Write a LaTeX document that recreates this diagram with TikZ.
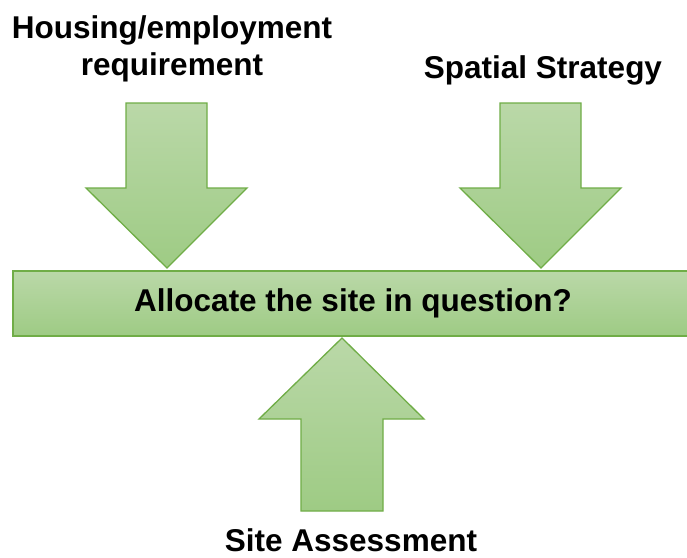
\documentclass[tikz,border=0pt]{standalone}
\usepackage{fontspec}
\setmainfont{Liberation Sans}
\definecolor{arrowtop}{RGB}{186,216,168}
\definecolor{arrowbottom}{RGB}{158,203,132}
\definecolor{arrowline}{RGB}{112,173,71}

\begin{document}
\begin{tikzpicture}
  [x=1pt,y=1pt,
    greenshape/.style={draw=arrowline,line width=1.3pt,line join=miter,
      top color=arrowtop,bottom color=arrowbottom},
    every node/.style={font=\bfseries\fontsize{31.5}{37}\selectfont,inner sep=0pt},
]
  \useasboundingbox (0,0) rectangle (687,-557);
  \clip (0,0) rectangle (687,-557);
  \fill[white] (0,0) rectangle (687,-557);
  \draw[greenshape] (13,-271) rectangle (700,-336);
  \draw[greenshape] (126,-103) -- (207,-103) -- (207,-188) -- (247,-188)
    -- (167,-268) -- (86,-188) -- (126,-188) -- cycle;
  \draw[greenshape] (500,-103) -- (581,-103) -- (581,-188) -- (621,-188)
    -- (541,-268) -- (460,-188) -- (500,-188) -- cycle;
  \draw[greenshape] (342,-338) -- (424,-419) -- (383,-419) -- (383,-511)
    -- (301,-511) -- (301,-419) -- (259,-419) -- cycle;
  \node[align=center,anchor=base] (housing) at (172,-75) {Housing/employment\\requirement};
  \node[anchor=base] (spatial) at (543,-78) {Spatial Strategy};
  \node[anchor=base] (allocate) at (353,-311) {Allocate the site in question?};
  \node[anchor=base] (assessment) at (351,-551) {Site Assessment};
\end{tikzpicture}
\end{document}
